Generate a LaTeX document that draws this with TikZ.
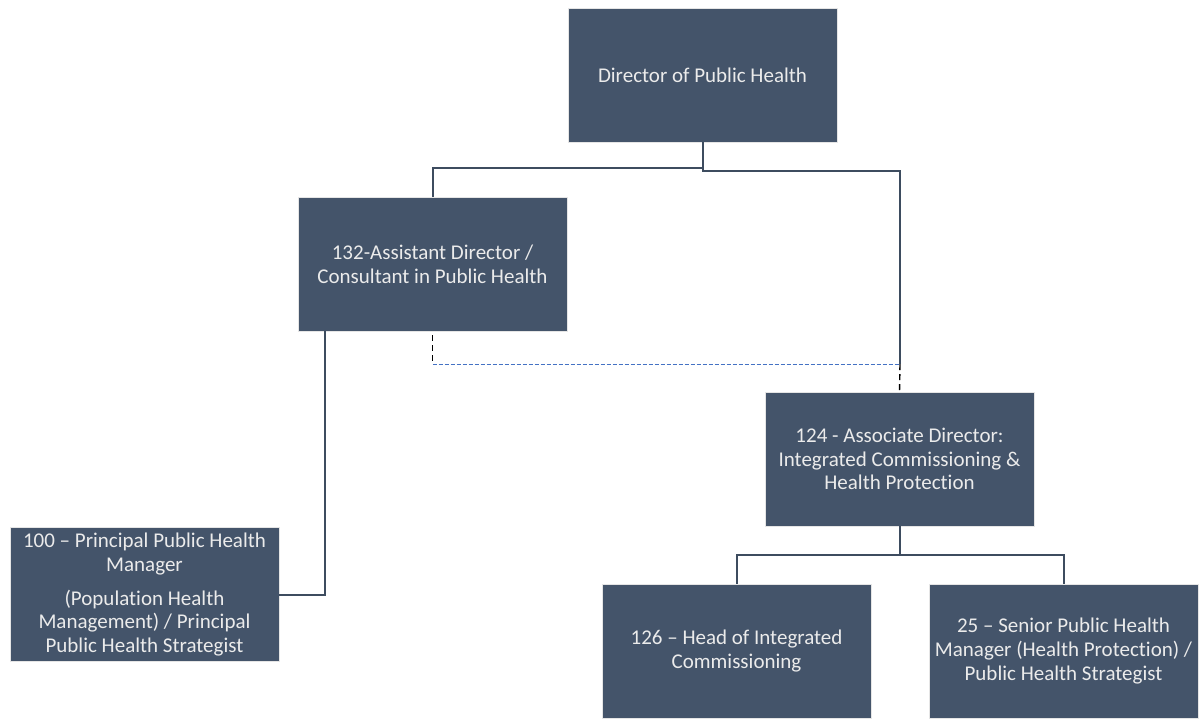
\documentclass[tikz,border=0pt]{standalone}
\usepackage{fontspec}
\setmainfont{Carlito}[Ligatures=NoCommon]
\usetikzlibrary{positioning}
\definecolor{boxblue}{HTML}{44546A}
\definecolor{linkblue}{HTML}{4472C4}

\begin{document}
\begin{tikzpicture}[x=0.5pt, y=-0.5pt, line width=1pt,
    post/.style={rectangle, draw=gray!20, line width=0.4pt, fill=boxblue, text=white!92!black,
      minimum width=134.5pt, minimum height=67pt, inner sep=0pt, align=center,
      font=\fontsize{10.5}{11.8}\selectfont},
    link/.style={draw=boxblue!90!black}]
  \useasboundingbox (0,0) rectangle (1203,720);

  \node[post] (dph) at (702.5,75) {Director of Public Health};
  \node[post] (ad) at (432.5,264) {132-Assistant Director /\\Consultant in Public Health};
  \node[post] (aid) at (899.5,459) {124 - Associate Director:\\Integrated Commissioning \&\\Health Protection};
  \node[post] (pphm) at (144.5,594.5) {100 – Principal Public Health\\Manager\\[5pt](Population Health\\Management) / Principal\\Public Health Strategist};
  \node[post] (hic) at (736.5,651) {126 – Head of Integrated\\Commissioning};
  \node[post] (sphm) at (1063.5,651) {25 – Senior Public Health\\Manager (Health Protection) /\\Public Health Strategist};

  \coordinate (j) at (900,364);
  \coordinate (k) at (ad.south |- j);

  \draw[link] (dph.south) -- ++(0,26) -| (ad.north);
  \draw[link] (dph.south) -- ++(0,29) -| (j);
  \draw[dashed, dash pattern=on 3pt off 2pt, line width=0.7pt] (j) -- (aid.north);
  \draw[dashed, dash pattern=on 3pt off 2pt, line width=0.7pt] ([yshift=-2pt]ad.south) -- (k);
  \draw[linkblue, dash pattern=on 2pt off 1pt, line width=0.4pt] (k) -- (j);
  \draw[link] ([xshift=13.5pt]ad.south west) |- (pphm.east);
  \draw[link] (aid.south) -- ++(0,29) -| (hic.north);
  \draw[link] (aid.south) -- ++(0,29) -| (sphm.north);
\end{tikzpicture}
\end{document}
